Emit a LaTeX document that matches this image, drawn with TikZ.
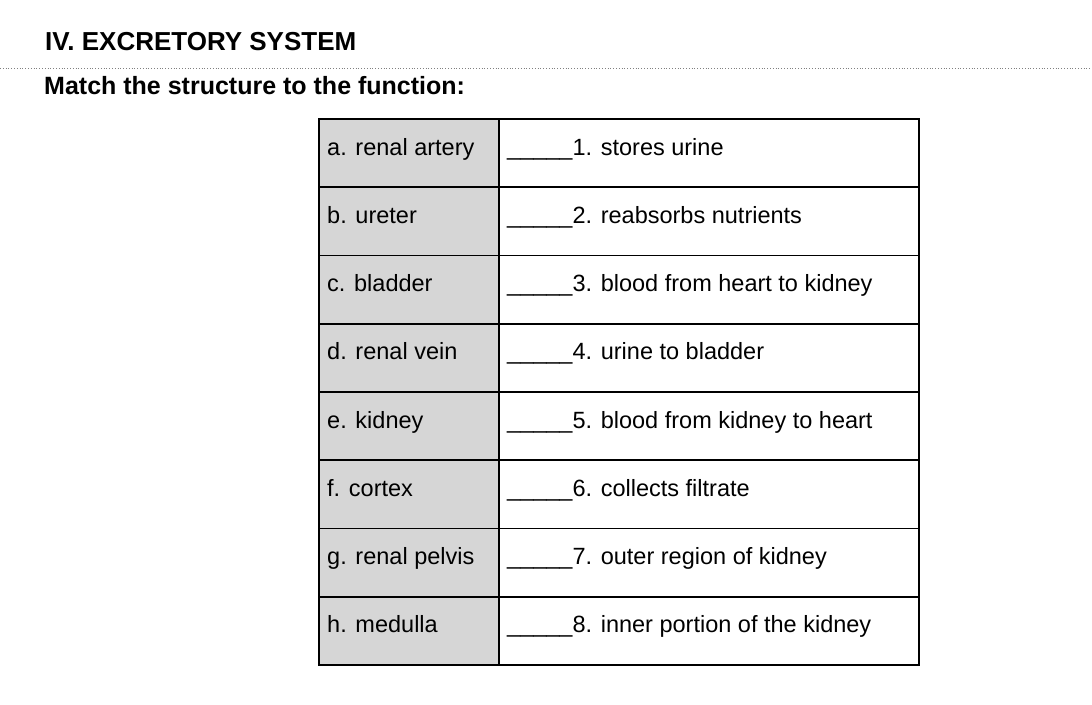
\documentclass[tikz,border=0pt]{standalone}
\usepackage{fontspec}
\setmainfont{Liberation Sans}
\begin{document}
\begin{tikzpicture}[x=1pt,y=-1pt,
  cellL/.style={draw=black,line width=1.8pt,fill=black!16,minimum width=180pt,minimum height=68.25pt,anchor=north west,inner sep=0pt},
  cellR/.style={draw=black,line width=1.8pt,fill=white,minimum width=420pt,minimum height=68.25pt,anchor=north west,inner sep=0pt},
  txt/.style={anchor=base west,font=\fontsize{23.5}{26}\selectfont,inner sep=0pt}]
\useasboundingbox (0,0) rectangle (1092,704);
\node[anchor=base west,inner sep=0pt,font=\fontsize{26}{30}\selectfont\bfseries] (title) at (45,50) {IV. EXCRETORY SYSTEM};
\draw[gray,dotted,line width=0.8pt] (0,68) -- (1092,68);
\node[anchor=base west,inner sep=0pt,font=\fontsize{25}{30}\selectfont\bfseries] (sub) at (44,94) {Match the structure to the function:};
\foreach \i/\l/\r in {0/a. renal artery/1. stores urine,1/b. ureter/2. reabsorbs nutrients,2/c. bladder/3. blood from heart to kidney,3/d. renal vein/4. urine to bladder,4/e. kidney/5. blood from kidney to heart,5/f. cortex/6. collects filtrate,6/g. renal pelvis/7. outer region of kidney,7/h. medulla/8. inner portion of the kidney}{
  \node[cellL] (L\i) at (318,118+68.25*\i) {};
  \node[cellR] (R\i) at (498,118+68.25*\i) {};
  \node[txt] (lt\i) at (327,155+68.25*\i) {\l};
  \node[txt] (rt\i) at (507,155+68.25*\i) {\_\_\_\_\_\r};
}
\end{tikzpicture}
\end{document}
